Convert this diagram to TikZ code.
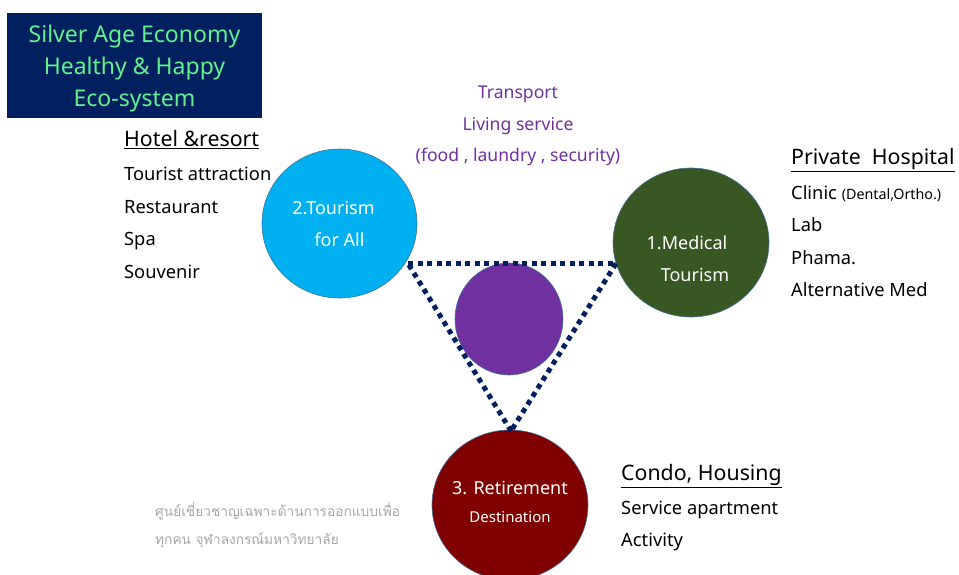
\documentclass[tikz,border=0pt]{standalone}
\usepackage{fontspec}
\setmainfont{Noto Sans}
\newfontfamily\thaifont[Script=Thai]{Loma}
\usetikzlibrary{shapes.geometric}
\definecolor{navybox}{RGB}{0,32,96}
\definecolor{titlegreen}{RGB}{100,240,140}
\definecolor{skyfill}{RGB}{0,176,240}
\definecolor{leaffill}{RGB}{56,87,35}
\definecolor{wine}{RGB}{128,0,0}
\definecolor{violet}{RGB}{112,48,160}
\definecolor{rimblue}{RGB}{65,113,156}
\tikzset{
title/.style = {rectangle, fill=navybox, text=titlegreen, minimum width=255pt, minimum height=105pt, inner sep=0pt, align=center, font=\fontsize{23}{32}\selectfont},
hub/.style = {ellipse, draw=rimblue, line width=0.6pt, inner sep=-4pt, text=white, align=center, font=\fontsize{18}{32}\selectfont},
heading/.style = {anchor=base west, inner sep=0pt, font=\fontsize{21.3}{25}\selectfont},
items/.style = {anchor=base west, inner sep=0pt, align=left, font=\fontsize{18.3}{32.5}\selectfont},
service/.style = {inner sep=0pt, text=violet, align=center, font=\fontsize{17.6}{31.5}\selectfont},
note/.style = {anchor=base west, inner sep=0pt, align=left, text=black!35, font=\thaifont\fontsize{13.7}{28}\selectfont},
link/.style = {draw=navybox, line width=5pt, dash pattern=on 5pt off 4.5pt}
}

\begin{document}
\begin{tikzpicture}[x=1pt, y=-1pt]
    \useasboundingbox (0,0) rectangle (959,575);
    \begin{scope}
    \clip (0,0) rectangle (959,575);
    \node [title] (box) at (134.5,65.5) {\rule{0pt}{23pt}Silver Age Economy\\Healthy \& Happy\\Eco-system};

    \node [service] (living) at (518,126) {Transport\\Living service\\(food , laundry , security)};

    \node [hub, fill=skyfill, minimum width=155pt, minimum height=149pt] (tourism) at (339.5,223.5) {2.Tourism\kern 12pt\\for All};
    \node [hub, fill=leaffill, minimum width=156pt, minimum height=149pt] (medical) at (691,242.5) {};
    \node [hub, fill=violet, minimum width=108pt, minimum height=112pt] (core) at (509,319) {};
    \node [hub, fill=wine, minimum width=156pt, minimum height=150pt] (retire) at (510,505) {3. Retirement\\[-4pt]{\fontsize{15}{20}\selectfont Destination\rule[-7pt]{0pt}{0pt}}};
    \end{scope}

    \node [hub, draw=none, text=white] (medtext) at (691,258.5) {1.Medical\kern 8pt\\\kern 8pt Tourism};

    \coordinate (c1) at (408,263.5);
    \coordinate (c2) at (616,263.5);
    \coordinate (c3) at (511,431);
    \path [link] (c1) -- (c2);
    \path [link] (c2) -- (c3);
    \path [link] (c3) -- (c1);

    \node [heading] (hotel) at (124,147) {\underline{Hotel \&resort}};
    \node [items] (hotelitems) at (124,278) {Tourist attraction\\Restaurant\\Spa\\Souvenir};

    \node [heading] (private) at (791,164.5) {\underline{Private\ \ Hospital}};
    \node [items] (privateitems) at (791,296.5) {Clinic {\fontsize{14.3}{20}\selectfont (Dental,Ortho.)}\\Lab\\Phama.\\Alternative Med};

    \node [heading] (condo) at (621,480.5) {\underline{Condo, Housing}};
    \node [items] (condoitems) at (621,546.5) {Service apartment\\Activity};

    \node [note] (thainote) at (155,544) {ศูนย์เชี่ยวชาญเฉพาะด้านการออกแบบเพื่อ\\ทุกคน จุฬาลงกรณ์มหาวิทยาลัย};
\end{tikzpicture}
\end{document}
